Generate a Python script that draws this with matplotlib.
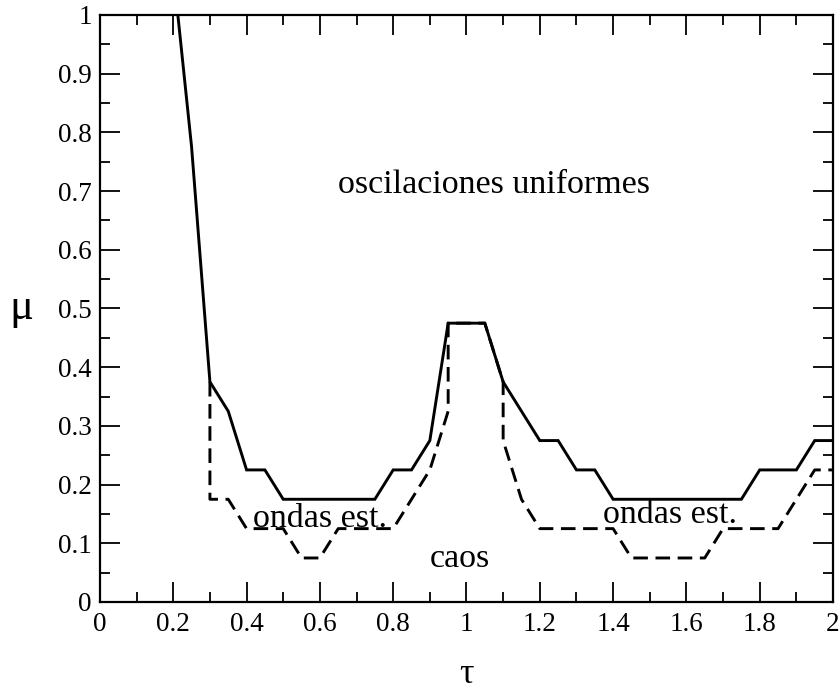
import numpy as np
import matplotlib
matplotlib.use("Agg")
import matplotlib.pyplot as plt
from matplotlib.ticker import MultipleLocator, FuncFormatter

# frontera oscilaciones uniformes (linea continua)
tau_sol = [0.2, 0.25, 0.3, 0.35, 0.4, 0.45, 0.5, 0.75, 0.8, 0.85, 0.9, 0.95,
           1.05, 1.1, 1.15, 1.2, 1.25, 1.3, 1.35, 1.4, 1.75, 1.8, 1.9, 1.95, 2.0]
mu_sol = [1.075, 0.775, 0.375, 0.325, 0.225, 0.225, 0.175, 0.175, 0.225, 0.225, 0.275, 0.475,
          0.475, 0.375, 0.325, 0.275, 0.275, 0.225, 0.225, 0.175, 0.175, 0.225, 0.225, 0.275, 0.275]

# frontera caos (linea discontinua)
tau_das = [0.3, 0.3, 0.35, 0.4, 0.5, 0.55, 0.6, 0.65, 0.8, 0.85, 0.9, 0.95, 0.95,
           1.05, 1.1, 1.1, 1.15, 1.2, 1.4, 1.45, 1.65, 1.7, 1.85, 1.95, 2.0]
mu_das = [0.375, 0.175, 0.175, 0.125, 0.125, 0.075, 0.075, 0.125, 0.125, 0.175, 0.225, 0.325, 0.475,
          0.475, 0.375, 0.275, 0.175, 0.125, 0.125, 0.075, 0.075, 0.125, 0.125, 0.225, 0.225]

labels = ["oscilaciones uniformes", "ondas est.", "ondas est.", "caos"]
label_xy = [(1.076, 0.697), (0.6, 0.128), (1.555, 0.135), (0.981, 0.06)]

plt.rcParams["font.family"] = ["Liberation Serif", "DejaVu Serif"]

fig = plt.figure(figsize=(8.4, 6.97), dpi=100)
ax = fig.add_axes([0.119, 0.1363, 0.8727, 0.8422])

ax.plot(tau_sol, mu_sol, color="black", lw=2.1, solid_joinstyle="miter")
ax.plot(tau_das, mu_das, color="black", lw=2.1, dashes=(5, 2.6))

for s, (x, y) in zip(labels, label_xy):
    ax.text(x, y, s, fontsize=24.5, ha="center", va="baseline")

ax.set_xlim(0, 2)
ax.set_ylim(0, 1)
ax.xaxis.set_major_locator(MultipleLocator(0.2))
ax.xaxis.set_minor_locator(MultipleLocator(0.1))
ax.yaxis.set_major_locator(MultipleLocator(0.1))
ax.yaxis.set_minor_locator(MultipleLocator(0.05))
ax.xaxis.set_major_formatter(FuncFormatter(lambda v, p: f"{v:g}"))
ax.yaxis.set_major_formatter(FuncFormatter(lambda v, p: f"{v:g}"))
ax.tick_params(which="both", direction="in", top=True, right=True, width=1.3, labelsize=19.5)
ax.tick_params(which="major", length=14.5)
ax.tick_params(which="minor", length=7.2)
ax.tick_params(axis="x", pad=7)
ax.tick_params(axis="y", pad=6)
for sp in ax.spines.values():
    sp.set_linewidth(1.6)

ax.set_xlabel("τ", fontsize=26, labelpad=15)
ax.set_ylabel("μ", fontsize=32, rotation=0, labelpad=26, va="center")

fig.savefig("out.png", dpi=100)
